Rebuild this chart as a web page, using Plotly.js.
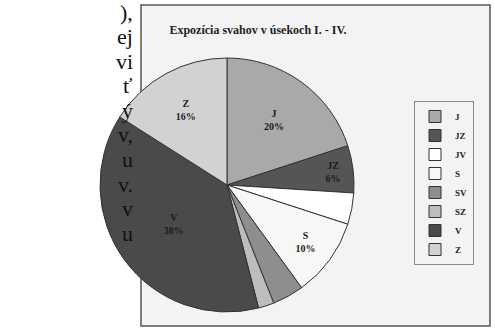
<!DOCTYPE html>
<html>
<head>
<meta charset="utf-8">
<script src="https://cdn.plot.ly/plotly-3.0.1.min.js"></script>
<style>
  html, body { margin: 0; padding: 0; background: #ffffff; }
  #chart { width: 495px; height: 332px; }
</style>
</head>
<body>
<div id="chart"></div>
<script>
// Exposure of slopes (aspect) in sections I - IV, share of each direction in %
const aspects = ['J', 'JZ', 'JV', 'S', 'SV', 'SZ', 'V', 'Z'];
const shares  = [20, 6, 4, 10, 4, 2, 38, 16];
const sliceColors = ['#a9a9a9', '#555555', '#ffffff', '#f7f7f7', '#8e8e8e', '#bdbdbd', '#4a4a4a', '#d2d2d2'];
// only the larger slices carry a label
const showLabel = [true, true, false, true, false, false, true, true];

// tail of the surrounding paragraph, right-aligned next to the chart frame
const sideText = ['),', 'ej', 'vi', 'ť', 'ý', 'v,', 'u', 'v.', 'v', 'u'];

const W = 495, H = 332;
const cx = 227, cy = 185, r = 127;

const texttemplate = showLabel.map(s => s ? '%{label}<br>%{percent}' : '');

const trace = {
  type: 'pie',
  labels: aspects,
  values: shares,
  sort: false,
  direction: 'clockwise',
  rotation: 0,
  marker: { colors: sliceColors, line: { color: '#333333', width: 1 } },
  texttemplate: texttemplate,
  textposition: 'inside',
  insidetextorientation: 'horizontal',
  textfont: { family: 'Liberation Serif, serif', size: 10, color: '#1a1a1a', weight: 'bold' },
  hoverinfo: 'label+percent',
  domain: {
    x: [(cx - r) / W, (cx + r) / W],
    y: [(H - cy - r) / H, (H - cy + r) / H]
  }
};

const sideAnnotations = sideText.map((t, i) => ({
  text: t,
  xref: 'paper', yref: 'paper',
  x: 135 / W, y: 1 - (12 + i * 24.6) / H,
  xanchor: 'right', yanchor: 'middle',
  showarrow: false,
  font: { family: 'Liberation Serif, serif', size: 22, color: '#111111' }
}));

const layout = {
  width: W, height: H,
  margin: { l: 0, r: 0, t: 0, b: 0 },
  paper_bgcolor: '#ffffff',
  title: {
    text: 'Expozícia svahov v úsekoch I. - IV.',
    xref: 'paper', yref: 'paper',
    x: 258 / W, y: 1 - 30 / H,
    xanchor: 'center', yanchor: 'middle',
    font: { family: 'Liberation Serif, serif', size: 12, color: '#222222', weight: 'bold' }
  },
  showlegend: true,
  legend: {
    x: 414 / W, y: 1 - 183 / H,
    xanchor: 'left', yanchor: 'middle',
    bgcolor: '#f3f3f3',
    bordercolor: '#8a8a8a', borderwidth: 1,
    font: { family: 'Liberation Serif, serif', size: 9, color: '#222222', weight: 'bold' },
    itemwidth: 30,
    traceorder: 'normal'
  },
  shapes: [{
    type: 'rect', layer: 'below',
    xref: 'paper', yref: 'paper',
    x0: 141 / W, x1: 490 / W,
    y0: 1 - 326 / H, y1: 1 - 5 / H,
    fillcolor: '#f3f3f3',
    line: { color: '#555555', width: 1.5 }
  }],
  annotations: sideAnnotations
};

Plotly.newPlot('chart', [trace], layout, { displayModeBar: false, staticPlot: true });
</script>
</body>
</html>
